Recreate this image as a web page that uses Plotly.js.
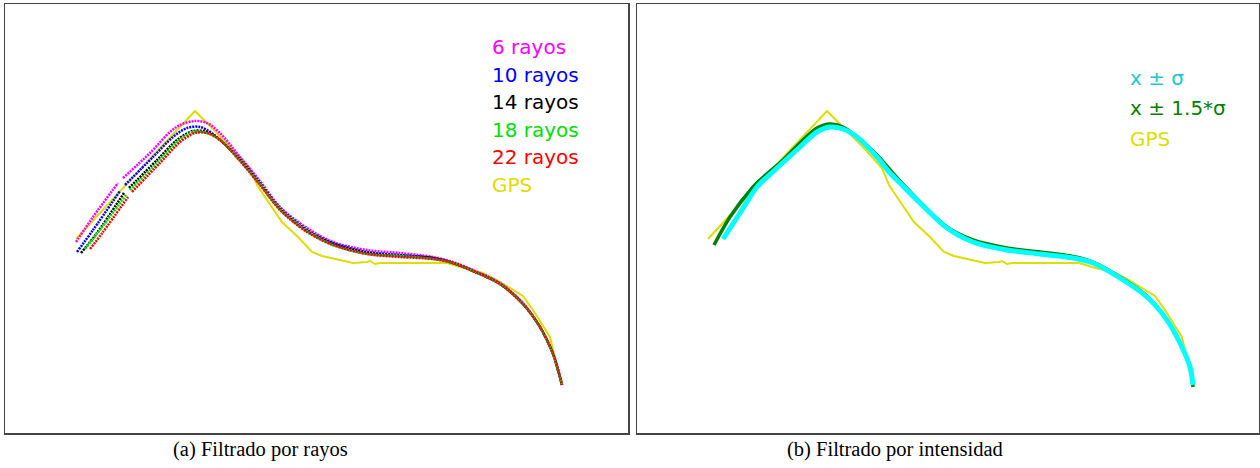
<!DOCTYPE html>
<html>
<head>
<meta charset="utf-8">
<script src="https://cdn.plot.ly/plotly-3.0.1.min.js"></script>
<style>html,body{margin:0;padding:0;background:#fff;}#chart{width:1260px;height:468px;}</style>
</head>
<body>
<div id="chart"></div>
<script>
// Trajectory coordinates (panel-local units)
const gpsX = [71,95,125,155,175,190,205,225,245,252,262,277,293,307,317,335,348,362,365,370,375,428,442,455,478,492,505,518,528,545,548,553];
const gpsY = [194,220,253,285,306,322,307,287,265,248,233,211,196,181,177,173,170,171,172,169,170,170,170,166,160,153,145,137,123,96,83,61];

// (a) Filtrado por rayos
const r6X  = [71,88,113,null,118,145,165,175,190,202,215,235,255,275,302,328,362,395,428,448,468,495,518,535,548,557];
const r6Y  = [191,216,250,null,255,280,301,308,312,310,300,276,252,226,205,191,183,180,176,171,163,150,130,106,80,48];
const r10X = [72,88,115,null,120,148,168,182,195,208,235,255,275,302,328,362,395,428,448,468,495,518,535,548,557];
const r10Y = [181,203,242,null,248,276,296,305,306,299,274,250,225,203,190,181,178,175,170,162,149,129,106,79,48];
const r14X = [76,92,119,null,124,152,172,188,202,215,235,255,275,302,328,362,395,428,448,468,495,518,535,548,557];
const r14Y = [180,200,240,null,245,273,293,302,301,293,273,249,224,202,189,180,177,175,170,162,149,129,106,79,48];
const r18X = [80,95,121,null,125,152,172,188,202,215,235,255,275,302,328,362,395,428,448,468,495,518,535,548,557];
const r18Y = [184,203,238,null,243,270,291,301,300,293,273,249,224,202,188,179,177,174,170,162,149,129,106,79,48];
const r22X = [85,98,123,null,127,155,175,190,202,215,235,255,275,302,328,362,395,428,448,468,495,518,535,548,557];
const r22Y = [184,201,236,null,241,270,291,300,300,293,272,248,223,201,188,179,176,174,170,162,149,129,106,79,48];

// (b) Filtrado por intensidad
const sig1X  = [86,103,120,140,163,180,193,206,220,240,253,263,283,310,336,370,403,436,456,483,510,530,543,553,556];
const sig1Y  = [194,220,246,265,286,301,306,304,296,276,260,250,230,205,191,183,179,175,170,155,136,113,90,66,48];
const sig15X = [77,93,116,123,146,166,180,193,206,220,240,263,310,336,370,403,436,456,483,510,530,543,553,556];
const sig15Y = [188,216,246,253,273,293,305,309,306,296,278,252,206,193,185,181,176.5,171,156,137,113,90,67,46];

const legendA = ['6 rayos','10 rayos','14 rayos','18 rayos','22 rayos','GPS'];
const legendB = ['x ± σ','x ± 1.5*σ','GPS'];
const captions = ['(a) Filtrado por rayos','(b) Filtrado por intensidad'];

const colA = ['#ff00ff','#0000ff','#000000','#00e000','#ff0000','#dddd00'];
const colB = ['#00ffff','#008000','#dddd00'];
const colBText = ['#1cc8c8','#008000','#dddd00'];

const W = 1260, H = 468;
const dotted = '2px,1px';
function tr(x,y,color,width,xa,ya,dash,smooth){
  const line = {color:color,width:width,dash:dash||'solid'};
  if (smooth) { line.shape = 'spline'; line.smoothing = 0.9; }
  return {x:x,y:y,type:'scatter',mode:'lines',connectgaps:false,
    line:line,xaxis:xa,yaxis:ya,hoverinfo:'skip',showlegend:false};
}
const data = [
  tr(gpsX,gpsY,colA[5],2,'x','y'),
  tr(r6X,r6Y,colA[0],2.5,'x','y',dotted,true),
  tr(r10X,r10Y,colA[1],2.5,'x','y',dotted,true),
  tr(r14X,r14Y,colA[2],2.5,'x','y',dotted,true),
  tr(r18X,r18Y,colA[3],2.5,'x','y',dotted,true),
  tr(r22X,r22Y,colA[4],2.5,'x','y',dotted,true),
  tr(gpsX,gpsY,colB[2],2,'x2','y2'),
  tr(sig15X,sig15Y,colB[1],3.5,'x2','y2',null,true),
  tr(sig1X,sig1Y,colB[0],5,'x2','y2',null,true),
];

function ax(domain, range){
  return {domain:domain, range:range, showgrid:false, zeroline:false, showticklabels:false, ticks:'',
    showline:true, mirror:true, linecolor:'#444', linewidth:1.5, fixedrange:true};
}
const yDom = [35/H, 464/H];
const layout = {
  width:W, height:H, margin:{l:0,r:0,t:0,b:0}, paper_bgcolor:'#fff', plot_bgcolor:'#fff',
  showlegend:false,
  xaxis: ax([5/W, 628/W],[0,623]),
  yaxis: Object.assign(ax(yDom,[0,429]),{anchor:'x'}),
  xaxis2: Object.assign(ax([637/W, 1259/W],[0,622]),{anchor:'y2'}),
  yaxis2: Object.assign(ax(yDom,[0,429]),{anchor:'x2'}),
  annotations: []
};
const fontLeg = 'DejaVu Sans, sans-serif';
const yA = [47,75,102,129.8,157,184.8];
legendA.forEach((t,i)=>{
  layout.annotations.push({text:t, xref:'paper', yref:'paper', x:490/W, y:(H-yA[i])/H,
    xanchor:'left', yanchor:'middle', showarrow:false, font:{family:fontLeg,size:20,color:colA[i]}});
});
const yB = [78,108,139];
legendB.forEach((t,i)=>{
  layout.annotations.push({text:t, xref:'paper', yref:'paper', x:1128/W, y:(H-yB[i])/H,
    xanchor:'left', yanchor:'middle', showarrow:false, font:{family:fontLeg,size:20,color:colBText[i]}});
});
const capX = [260, 895];
captions.forEach((t,i)=>{
  layout.annotations.push({text:t, xref:'paper', yref:'paper', x:capX[i]/W, y:(H-449)/H,
    xanchor:'center', yanchor:'middle', showarrow:false, font:{family:'Liberation Serif, serif',size:20.5,color:'#000'}});
});
Plotly.newPlot('chart', data, layout, {staticPlot:true, displayModeBar:false});
</script>
</body>
</html>
